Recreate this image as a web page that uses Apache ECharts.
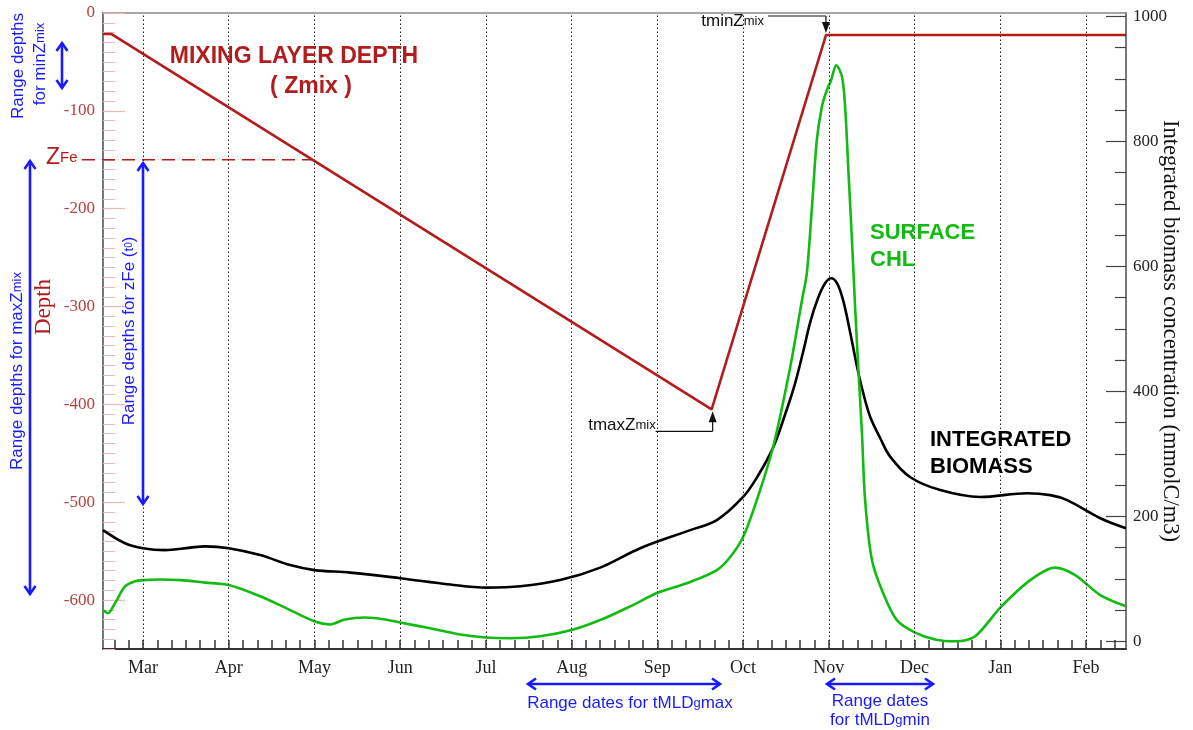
<!DOCTYPE html>
<html><head><meta charset="utf-8">
<script src="https://cdn.jsdelivr.net/npm/echarts@6/dist/echarts.min.js"></script>
<style>html,body{margin:0;padding:0;background:#fff}#c{width:1193px;height:730px}</style>
</head><body><div id="c"></div>
<script>
// ---- data ----
const monthNames = ['Mar','Apr','May','Jun','Jul','Aug','Sep','Oct','Nov','Dec','Jan','Feb'];
const monthDays = [0,30,60,90,120,150,180,210,240,270,300,330];
const depthTickLabels = [0,-100,-200,-300,-400,-500,-600];
const biomassTickLabels = [0,200,400,600,800,1000];

const zmixDays  = [-14, -11, 199, 239, 344];
const zmixDepth = [-21.5, -21.5, -405, -22.5, -22.5];
const zFeDepth = -150;

const chlDays = [-14,-12.3,-9.8,-6.3,-2.8,0,6,13,21.7,30,41,51.5,60,65.5,70.7,77.7,84.7,90,100.5,111,120,128.5,139,150,160,170.5,180.3,191.5,200.8,205.5,210,214.8,220.5,226.5,230.6,232.3,234.1,235.8,237.6,239.3,240.8,242.6,244.6,245.7,246.9,248.1,249.2,250.3,251.6,252.7,255.1,259,263.8,270.2,277.2,284.2,291.2,300,310.5,319.2,326.2,335,344];
const chlValues = [50,45,61,88,96,98,99,98,94,90,72,50,32,27,35,38,35,30,21,11,6,5,8,18,34,56,78,95,114,135,167,226,311,439,546,589,695,802,856,882,898,922,904,856,749,642,535,439,333,226,130,77,34,14,3,0,8,54,98,118,106,74,56];

const bioDays = [-14,-6.3,0,7.7,16.5,21.7,30,41,51.5,60,72.5,90,107.5,120,132,146,160,174,191.5,200.8,210,215.2,220.5,224.7,228.2,231,233.5,236.2,238.7,240.8,242.9,245,247.5,249.9,252,254.5,258,261.4,268.4,279,293,309.4,317.5,323.4,335,344];
const bioValues = [178,157,149,146,150,152,149,138,122,114,110,101,91,86,88,98,118,149,178,194,231,265,310,363,413,463,511,549,573,581,573,546,494,439,398,359,325,296,263,242,231,237,234,226,197,181];

// ---- chart ----
const RED = '#b21c1c', GREEN = '#11bb11', BLUE = '#1a1aff';
const SERIF = 'Liberation Serif', SANS = 'Liberation Sans';
const pair = (xs, ys) => xs.map((x, i) => [x, ys[i]]);

const dayTicks = []; for (let d = -10; d <= 340; d += 5) dayTicks.push(d);
const depthMinor = []; for (let v = -650; v <= 0; v += 10) if (v % 100 !== 0) depthMinor.push(v);
const bioMinor = []; for (let v = 0; v <= 1000; v += 50) if (v % 200 !== 0) bioMinor.push(v);

const X_MIN = -14, X_MAX = 344, Y_MIN = -650, Y_MAX = 0, B_MIN = -12.3, B_MAX = 1005.6;

const chart = echarts.init(document.getElementById('c'), null, {renderer: 'canvas'});
const option = {
  animation: false,
  backgroundColor: '#fff',
  grid: {left: 103, right: 67, top: 13, bottom: 81, containLabel: false},
  xAxis: [
    {type: 'value', min: X_MIN, max: X_MAX, position: 'bottom',
     axisLine: {show: true, onZero: false, lineStyle: {color: '#333', width: 2}},
     axisTick: {show: true, inside: true, length: 9, customValues: dayTicks, lineStyle: {color: '#333', width: 1.5}},
     axisLabel: {show: true, customValues: monthDays, margin: 10,
       formatter: v => monthNames[monthDays.indexOf(v)] || '',
       fontFamily: SERIF, fontSize: 18, color: '#222'},
     splitLine: {show: false}},
    {type: 'value', min: X_MIN, max: X_MAX, position: 'top',
     axisLine: {show: true, onZero: false, lineStyle: {color: '#888', width: 1.5}},
     axisTick: {show: false}, axisLabel: {show: false}, splitLine: {show: false}}
  ],
  yAxis: [
    {type: 'value', min: Y_MIN, max: Y_MAX, position: 'left',
     axisLine: {show: true, onZero: false, lineStyle: {color: '#777', width: 2}},
     axisTick: {show: true, inside: true, length: 22, customValues: depthTickLabels, lineStyle: {color: '#eab8b8', width: 1.2}},
     axisLabel: {show: true, customValues: depthTickLabels, margin: 8, fontFamily: SERIF, fontSize: 17, color: '#b5403f',
       formatter: v => String(v)},
     splitLine: {show: false}},
    {type: 'value', min: Y_MIN, max: Y_MAX, position: 'left',
     axisLine: {show: false, onZero: false},
     axisTick: {show: true, inside: true, length: 12, customValues: depthMinor, lineStyle: {color: '#eab8b8', width: 1}},
     axisLabel: {show: false}, splitLine: {show: false}},
    {type: 'value', min: B_MIN, max: B_MAX, position: 'right',
     axisLine: {show: true, onZero: false, lineStyle: {color: '#777', width: 2}},
     axisTick: {show: true, inside: true, length: 20, customValues: biomassTickLabels, lineStyle: {color: '#444', width: 1.2}},
     axisLabel: {show: true, customValues: biomassTickLabels, margin: 7, fontFamily: SERIF, fontSize: 17, color: '#222',
       formatter: v => String(v)},
     splitLine: {show: false}},
    {type: 'value', min: B_MIN, max: B_MAX, position: 'right',
     axisLine: {show: false, onZero: false},
     axisTick: {show: true, inside: true, length: 11, customValues: bioMinor, lineStyle: {color: '#444', width: 1.2}},
     axisLabel: {show: false}, splitLine: {show: false}}
  ],
  series: [
    {name: 'Integrated biomass', type: 'line', xAxisIndex: 0, yAxisIndex: 2,
     data: pair(bioDays, bioValues), smooth: 0.35, showSymbol: false, symbol: 'none',
     lineStyle: {color: '#000', width: 2.6}, z: 3,
     markLine: {silent: true, symbol: 'none', label: {show: false},
       lineStyle: {color: '#222', width: 1, type: [1.5, 2.5]},
       data: monthDays.map(d => ({xAxis: d}))}},
    {name: 'Surface CHL', type: 'line', xAxisIndex: 0, yAxisIndex: 2,
     data: pair(chlDays, chlValues), smooth: 0.3, showSymbol: false, symbol: 'none',
     lineStyle: {color: GREEN, width: 2.6}, z: 4},
    {name: 'Zmix', type: 'line', xAxisIndex: 0, yAxisIndex: 0,
     data: pair(zmixDays, zmixDepth), smooth: false, showSymbol: false, symbol: 'none',
     lineStyle: {color: RED, width: 2.6}, z: 5}
  ]
};
chart.setOption(option);

// ---- annotations positioned from the data through the axes ----
const P = (d, v, yi) => chart.convertToPixel({xAxisIndex: 0, yAxisIndex: yi}, [d, v]);
const tmax = P(zmixDays[2], zmixDepth[2], 0);
const tmin = P(zmixDays[3], zmixDepth[3], 0);
const crossDay = zmixDays[1] + (zFeDepth - zmixDepth[1]) / (zmixDepth[2] - zmixDepth[1]) * (zmixDays[2] - zmixDays[1]);
const zfe = P(crossDay, zFeDepth, 0);

const G = [];
const ln = (x1, y1, x2, y2, color, w, dash) => G.push({type: 'line', silent: true, z: 10,
  shape: {x1, y1, x2, y2}, style: {stroke: color, lineWidth: w, lineDash: dash || null}});
const txt = (x, y, text, o) => G.push(Object.assign({type: 'text', silent: true, z: 10, x, y,
  style: Object.assign({text, fill: '#000', font: '16px ' + SANS, align: 'center', verticalAlign: 'middle'}, o.style || {})},
  o.rotation != null ? {rotation: o.rotation} : {}));
const chev = (pts, color, w) => G.push({type: 'polyline', silent: true, z: 10, shape: {points: pts},
  style: {stroke: color, lineWidth: w, fill: null, lineJoin: 'miter'}});
const tri = (pts, color) => G.push({type: 'polygon', silent: true, z: 10, shape: {points: pts}, style: {fill: color}});

function vArrow(x, y1, y2) {
  ln(x, y1 + 1, x, y2 - 1, BLUE, 2.6);
  chev([[x - 5.5, y1 + 9], [x, y1 + 1], [x + 5.5, y1 + 9]], BLUE, 2.6);
  chev([[x - 5.5, y2 - 9], [x, y2 - 1], [x + 5.5, y2 - 9]], BLUE, 2.6);
}
function hArrow(x1, x2, y) {
  ln(x1 + 1, y, x2 - 1, y, BLUE, 2.6);
  chev([[x1 + 9, y - 5.5], [x1 + 1, y], [x1 + 9, y + 5.5]], BLUE, 2.6);
  chev([[x2 - 9, y - 5.5], [x2 - 1, y], [x2 - 9, y + 5.5]], BLUE, 2.6);
}

// Series titles
txt(294, 57, 'MIXING LAYER DEPTH', {style: {font: 'bold 23px ' + SANS, fill: RED}});
txt(311, 87, '( Zmix )', {style: {font: 'bold 23px ' + SANS, fill: RED}});
txt(870, 233, 'SURFACE', {style: {font: 'bold 22px ' + SANS, fill: GREEN, align: 'left'}});
txt(870, 260, 'CHL', {style: {font: 'bold 22px ' + SANS, fill: GREEN, align: 'left'}});
txt(930, 440, 'INTEGRATED', {style: {font: 'bold 22px ' + SANS, fill: '#000', align: 'left'}});
txt(930, 467, 'BIOMASS', {style: {font: 'bold 22px ' + SANS, fill: '#000', align: 'left'}});

// axis titles
txt(44, 307, 'Depth', {rotation: Math.PI / 2, style: {font: '23px ' + SERIF, fill: RED}});
txt(1170, 331, 'Integrated biomass concentration (mmolC/m3)', {rotation: -Math.PI / 2, style: {font: '22.5px ' + SERIF, fill: '#111'}});

// ZFe reference
G.push({type: 'text', silent: true, z: 10, x: 46, y: 169, style: {
  text: '{z|Z}{f|Fe}', verticalAlign: 'bottom', align: 'left', fill: RED,
  rich: {z: {fontSize: 23, fontFamily: SANS, fill: RED}, f: {fontSize: 15, fontFamily: SANS, fill: RED}}}});
ln(82, zfe[1], zfe[0], zfe[1], RED, 1.6, [13, 7]);

// blue range labels
const blueRich = {n: {fontSize: 17, fontFamily: SANS, fill: BLUE}, s: {fontSize: 13, fontFamily: SANS, fill: BLUE},
                  ss: {fontSize: 10, fontFamily: SANS, fill: BLUE}};
G.push({type: 'text', silent: true, z: 10, x: 18, y: 66, rotation: Math.PI / 2,
  style: {text: '{n|Range depths}', align: 'center', verticalAlign: 'middle', rich: blueRich}});
G.push({type: 'text', silent: true, z: 10, x: 40, y: 64, rotation: Math.PI / 2,
  style: {text: '{n|for minZ}{s|mix}', align: 'center', verticalAlign: 'middle', rich: blueRich}});
G.push({type: 'text', silent: true, z: 10, x: 17, y: 371, rotation: Math.PI / 2,
  style: {text: '{n|Range depths for maxZ}{s|mix}', align: 'center', verticalAlign: 'middle', rich: blueRich}});
G.push({type: 'text', silent: true, z: 10, x: 129, y: 331, rotation: Math.PI / 2,
  style: {text: '{n|Range depths for zFe (}{s|t}{ss|0}{n|)}', align: 'center', verticalAlign: 'middle', rich: blueRich}});
G.push({type: 'text', silent: true, z: 10, x: 630, y: 703,
  style: {text: '{n|Range dates for tMLD}{s|g}{n|max}', align: 'center', verticalAlign: 'middle', rich: blueRich}});
G.push({type: 'text', silent: true, z: 10, x: 880, y: 701,
  style: {text: '{n|Range dates}', align: 'center', verticalAlign: 'middle', rich: blueRich}});
G.push({type: 'text', silent: true, z: 10, x: 880, y: 720,
  style: {text: '{n|for tMLD}{s|g}{n|min}', align: 'center', verticalAlign: 'middle', rich: blueRich}});

vArrow(62, 42, 89);
vArrow(30, 160, 595);
vArrow(143, 162, 505);
hArrow(527, 721, 684);
hArrow(826, 934, 684);

// tminZmix / tmaxZmix pointers
const blackRich = {a: {fontSize: 17, fontFamily: SANS, fill: '#111'}, b: {fontSize: 13, fontFamily: SANS, fill: '#111'}};
G.push({type: 'text', silent: true, z: 10, x: tmin[0] - 62, y: 21,
  style: {text: '{a|tminZ}{b|mix}', align: 'right', verticalAlign: 'middle', rich: blackRich}});
ln(tmin[0] - 58, 16, tmin[0], 16, '#111', 1.2);
ln(tmin[0], 16, tmin[0], tmin[1] - 8, '#111', 1.2);
tri([[tmin[0] - 4, tmin[1] - 13], [tmin[0] + 4, tmin[1] - 13], [tmin[0], tmin[1] - 2]], '#111');

G.push({type: 'text', silent: true, z: 10, x: tmax[0] - 56, y: 425,
  style: {text: '{a|tmaxZ}{b|mix}', align: 'right', verticalAlign: 'middle', rich: blackRich}});
ln(tmax[0] - 56, tmax[1] + 22, tmax[0] + 1, tmax[1] + 22, '#111', 1.2);
ln(tmax[0] + 1, tmax[1] + 22, tmax[0] + 1, tmax[1] + 8, '#111', 1.2);
tri([[tmax[0] - 3, tmax[1] + 13], [tmax[0] + 5, tmax[1] + 13], [tmax[0] + 1, tmax[1] + 2]], '#111');

chart.setOption({graphic: {elements: G}});
</script>
</body></html>
